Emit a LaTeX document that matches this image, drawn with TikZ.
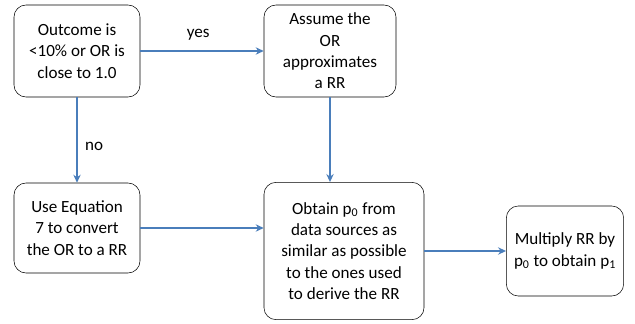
\documentclass[tikz,border=0pt]{standalone}
\usepackage{fontspec}
\setmainfont{Carlito}
\usetikzlibrary{arrows.meta}

\begin{document}
\begin{tikzpicture}[x=0.75pt, y=-0.75pt, thick,
    main/.style = {draw, thin, rounded corners=9pt, align=center, inner sep=2pt,
                   font=\fontsize{12.8}{16}\selectfont},
    flow/.style = {draw={rgb,255:red,74;green,126;blue,187}, line width=1.6pt,
                   -{Stealth[length=6pt,width=5.5pt]}},
    lbl/.style  = {font=\fontsize{12.8}{16}\selectfont}]
    \useasboundingbox (0,0) rectangle (635,324);
    \node[main, minimum width=94.5pt, minimum height=69pt]   (1) at (77,51)   {Outcome is\\<10\% or OR is\\close to 1.0};
    \node[main, minimum width=99pt, minimum height=69pt]     (2) at (330,51)  {Assume the\\OR\\approximates\\a RR};
    \node[main, minimum width=94.5pt, minimum height=67.5pt] (3) at (77,228)  {Use Equation\\7 to convert\\the OR to a RR};
    \node[main, minimum width=120pt, minimum height=103pt]   (4) at (344,251) {Obtain p\textsubscript{0} from\\data sources as\\similar as possible\\to the ones used\\to derive the RR};
    \node[main, minimum width=88pt, minimum height=67.5pt]   (5) at (565,251) {Multiply RR by\\p\textsubscript{0} to obtain p\textsubscript{1}};
    \draw[flow] (1) -- node[lbl, above=4pt, pos=0.47] (yes) {yes} (2);
    \draw[flow] (1) -- node[lbl, right=2pt, pos=0.58] (no) {no} (3);
    \draw[flow] (3.east) -- (3.east -| 4.west);
    \draw[flow] (2.south) -- (2.south |- 4.north);
    \draw[flow] (4) -- (5);
\end{tikzpicture}
\end{document}
